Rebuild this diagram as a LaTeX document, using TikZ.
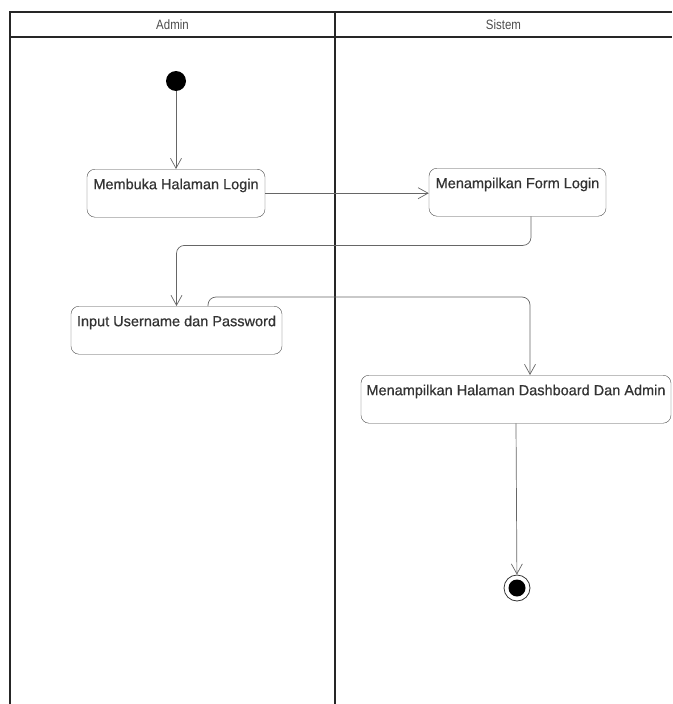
\documentclass[tikz,border=0pt]{standalone}
\usepackage{fontspec}
\setmainfont{Liberation Sans}
\newfontfamily\actfont[FakeBold=0.6]{Liberation Sans}
\newfontfamily\headfont[FakeStretch=0.85]{Liberation Sans}
\usetikzlibrary{arrows.meta}

\begin{document}
\begin{tikzpicture}[x=1pt, y=-1pt,
    lane/.style={line width=1.8pt, draw=black!85},
    head/.style={font=\headfont\fontsize{13.5}{15}\selectfont, text=black!70, inner sep=0pt},
    act/.style={draw=black!70, rounded corners=8pt, fill=white, anchor=north, inner xsep=3pt, inner ysep=0pt,
        text height=20pt, text depth=28pt, font=\actfont\fontsize{14.5}{16}\selectfont, text=black!80},
    flow/.style={draw=black!60, line width=0.7pt, rounded corners=8pt, -{Straight Barb[length=10pt,width=11pt]}},
    startdot/.style={circle, fill=black, minimum size=20pt, inner sep=0pt},
    enddot/.style={circle, draw=black!80, line width=0.8pt, minimum size=26pt, inner sep=0pt,
        path picture={\fill[black] (path picture bounding box.center) circle (8.5pt);}}]
        \useasboundingbox (0,0) rectangle (672,704);

        % swimlanes
        \draw[lane] (10,704) -- (10,12) -- (672,12);
        \draw[lane] (10,37) -- (672,37);
        \draw[lane] (335,12) -- (335,704);
        \node[head] (admin) at (172.5,24.5) {Admin};
        \node[head] (sistem) at (503.5,24.5) {Sistem};

        \node[startdot] (start) at (176,81) {};
        \node[act, minimum width=178pt] (login) at (176,169) {Membuka Halaman Login};
        \node[act, minimum width=177pt] (form) at (517.5,168) {Menampilkan Form Login};
        \node[act, minimum width=211pt] (input) at (176.5,306) {Input Username dan Password};
        \node[act, minimum width=310pt] (dashboard) at (516,375) {Menampilkan Halaman Dashboard Dan Admin};
        \node[enddot] (end) at (517,588) {};

        \draw[flow] (start) -- (login);
        \draw[flow] (login.east) -- (login.east -| form.west);
        \draw[flow] ([xshift=13.5pt]form.south) -- ++(0,29) -| (input.north);
        \draw[flow] ([xshift=31.5pt]input.north) -- ++(0,-9) -| ([xshift=14pt]dashboard.north);
        \draw[flow] (dashboard.south) -- (end);
    \end{tikzpicture}
\end{document}
